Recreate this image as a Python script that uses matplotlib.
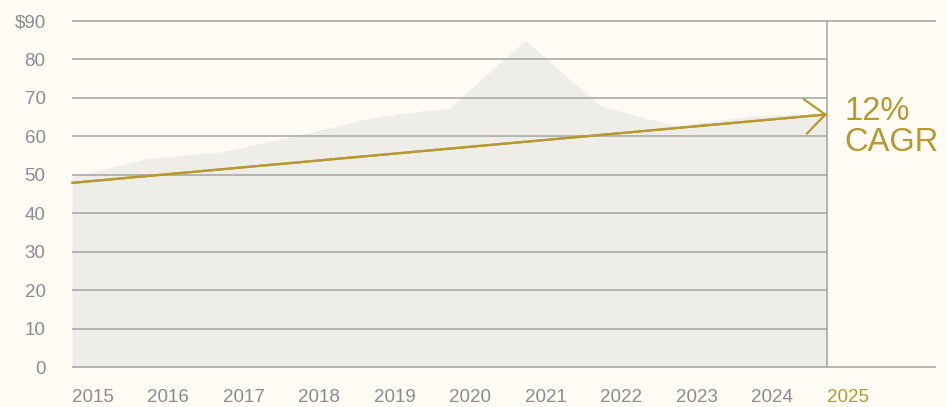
import matplotlib
matplotlib.use("Agg")
import matplotlib.pyplot as plt

# data
years = [2015, 2016, 2017, 2018, 2019, 2020, 2021, 2022, 2023, 2024, 2025]
values = [49.5, 54.2, 56.0, 60.3, 65.0, 67.4, 85.0, 67.9, 62.7, 65.3, 66.0]
trend_years = [2015, 2025]
trend_values = [47.9, 65.7]
y_ticks = [0, 10, 20, 30, 40, 50, 60, 70, 80, 90]
y_labels = ["0", "10", "20", "30", "40", "50", "60", "70", "80", "$90"]
cagr_text = "12%\nCAGR"

bg = "#FDFBF4"
gold = "#B8992F"
grid_c = "#A3A3A3"
area_c = "#EEEDE8"
label_c = "#8C8C8C"

plt.rcParams['font.family'] = ['Liberation Sans', 'DejaVu Sans']

fig = plt.figure(figsize=(9.46, 4.07), dpi=100, facecolor=bg)
ax = fig.add_axes([72/946, 40/407, (936-72)/946, 346/407])
ax.set_facecolor(bg)

x_end = 2025 + (936-827)/75.5
ax.set_xlim(2015, x_end)
ax.set_ylim(0, 90)

ax.fill_between(years, values, 0, color=area_c, lw=0, zorder=1)

# gridlines: inner ones stop at 2025, top and bottom run full width
ax.hlines(y_ticks[1:-1], 2015, 2025, color=grid_c, lw=1.1, zorder=2)
ax.hlines([y_ticks[0], y_ticks[-1]], 2015, x_end, color=grid_c, lw=1.1, zorder=2, clip_on=False)
ax.vlines(2025, 0, 90, color=grid_c, lw=1.1, zorder=2)

ax.plot(trend_years, trend_values, color=gold, lw=1.6, zorder=3, solid_capstyle="butt")
ax.annotate("", xy=(trend_years[1], trend_values[1]), xytext=(trend_years[0], trend_values[0]),
            arrowprops=dict(arrowstyle="->,head_length=1.45,head_width=1.25", color=gold,
                            lw=1.6, shrinkA=0, shrinkB=0), zorder=4)

ax.text(2025.23, trend_values[1] - 3.3, cagr_text, color=gold, fontsize=23.5,
        ha="left", va="center", linespacing=1.02)

for s in ax.spines.values():
    s.set_visible(False)

ax.set_yticks(y_ticks)
ax.set_yticklabels(y_labels)
ax.set_xticks(years)
ax.set_xticklabels([str(y) for y in years])
ax.tick_params(axis="y", length=0, pad=19, labelsize=13.5, labelcolor=label_c)
ax.tick_params(axis="x", length=0, pad=16, labelsize=13.5, labelcolor=label_c)
for lab in ax.get_xticklabels():
    lab.set_horizontalalignment("left")
ax.get_xticklabels()[-1].set_color(gold)

fig.savefig("out.png", dpi=100, facecolor=bg)
